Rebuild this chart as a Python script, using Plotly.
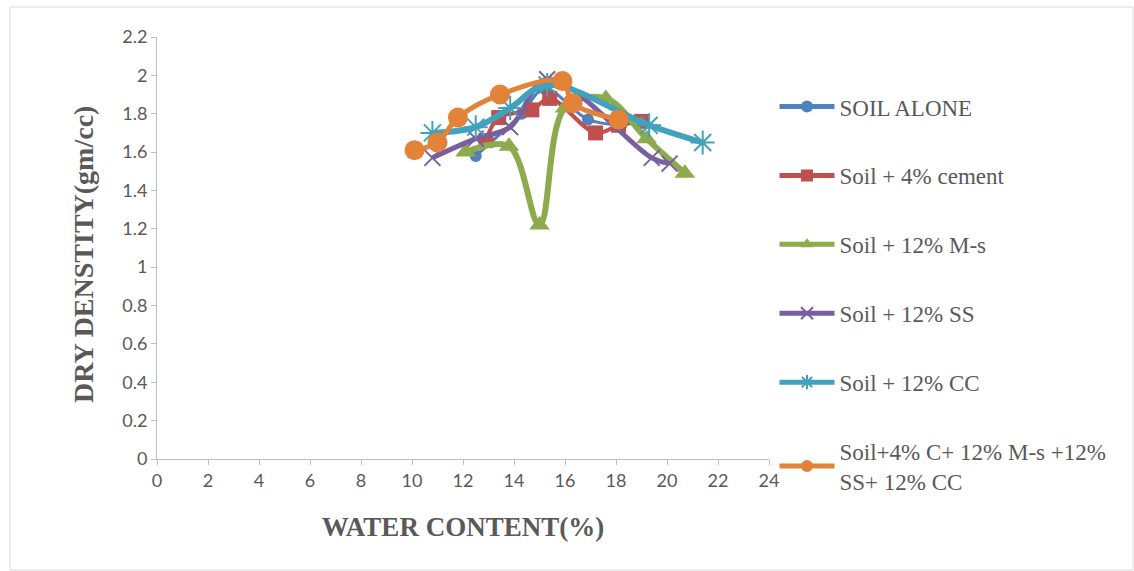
import plotly.graph_objects as go

# Data
soil_x = [12.5, 14.3, 15.2, 16.9, 18.2]
soil_y = [1.58, 1.80, 1.93, 1.77, 1.74]

cem_x = [12.9, 13.4, 14.7, 15.4, 17.2, 18.1, 19.0]
cem_y = [1.66, 1.78, 1.82, 1.88, 1.70, 1.74, 1.76]

ms_x = [12.1, 13.8, 15.0, 16.0, 17.6, 19.2, 20.7]
ms_y = [1.60, 1.63, 1.22, 1.83, 1.88, 1.67, 1.49]

ss_x = [10.8, 12.5, 13.85, 15.3, 19.4, 20.1]
ss_y = [1.57, 1.67, 1.73, 1.98, 1.57, 1.54]

cc_x = [10.8, 12.5, 13.85, 15.3, 19.3, 21.4]
cc_y = [1.70, 1.73, 1.83, 1.95, 1.74, 1.65]

mix_x = [10.1, 11.0, 11.8, 13.45, 15.9, 16.3, 18.1]
mix_y = [1.61, 1.65, 1.78, 1.90, 1.97, 1.855, 1.77]

names = ["SOIL ALONE", "Soil + 4% cement", "Soil + 12% M-s",
         "Soil + 12% SS", "Soil + 12% CC",
         "Soil+4% C+ 12% M-s +12%<br>SS+ 12% CC"]

xticks = list(range(0, 25, 2))
yticks = [0, 0.2, 0.4, 0.6, 0.8, 1, 1.2, 1.4, 1.6, 1.8, 2, 2.2]
ytick_text = ["0", "0.2", "0.4", "0.6", "0.8", "1", "1.2", "1.4", "1.6", "1.8", "2", "2.2"]

series = [
    (soil_x, soil_y, "#4F81BD", "circle", 12, 3),
    (cem_x, cem_y, "#C0504D", "square", 15, 4),
    (ms_x, ms_y, "#8DAB4C", "triangle-up", 18, 6),
    (ss_x, ss_y, "#7A5F9E", "x-thin-open", 16, 5),
    (cc_x, cc_y, "#40A2BD", "asterisk-open", 20, 6),
    (mix_x, mix_y, "#E3833A", "circle", 20, 5),
]

fig = go.Figure()
for i, (xs, ys, col, sym, ms, lw) in enumerate(series):
    marker = dict(color=col, size=ms, symbol=sym)
    if "open" in sym:
        marker["line"] = dict(color=col, width=2)
    fig.add_trace(go.Scatter(
        x=xs, y=ys, name=names[i], mode="lines+markers",
        line=dict(color=col, width=lw, shape="spline", smoothing=1.0),
        marker=marker, legendgroup=str(i),
    ))

fig.update_layout(
    width=1134, height=571,
    margin=dict(l=157, r=365, t=37, b=112),
    plot_bgcolor="white", paper_bgcolor="white",
    showlegend=True,
    legend=dict(x=1.009, y=0.886, xanchor="left", yanchor="top",
                font=dict(family="Liberation Serif", size=23, color="#595959"),
                tracegroupgap=36, itemwidth=55, itemsizing="constant",
                bgcolor="rgba(0,0,0,0)", maxheight=560),
    xaxis=dict(range=[0, 24], tickvals=xticks, ticks="outside", ticklen=5,
               tickcolor="#BFBFBF", showline=True, linecolor="#BFBFBF", linewidth=1,
               showgrid=False, zeroline=False,
               tickfont=dict(family="Lato", size=18, color="#595959"),
               title=dict(text="<b>WATER CONTENT(%)</b>",
                          font=dict(family="Liberation Serif", size=27, color="#595959"),
                          standoff=27)),
    yaxis=dict(range=[0, 2.2], tickvals=yticks, ticktext=ytick_text, ticks="outside",
               ticklen=5, tickcolor="#BFBFBF", showline=True, linecolor="#BFBFBF",
               linewidth=1, showgrid=False, zeroline=False,
               tickfont=dict(family="Lato", size=18, color="#595959")),
    annotations=[dict(text="<b>DRY DENSTITY(gm/cc)</b>", textangle=-90,
                      xref="paper", yref="paper",
                      x=(83 - 157) / 612, y=(459 - 255) / 422,
                      xanchor="center", yanchor="middle", showarrow=False,
                      font=dict(family="Liberation Serif", size=28, color="#595959"))],
)

fig.add_shape(type="rect", xref="paper", yref="paper",
              x0=(10 - 157) / 612, x1=(1133 - 157) / 612,
              y0=(459 - 570) / 422, y1=(459 - 7) / 422,
              line=dict(color="#D9D9D9", width=1), fillcolor="rgba(0,0,0,0)", layer="below")

fig.write_html("out.html")
